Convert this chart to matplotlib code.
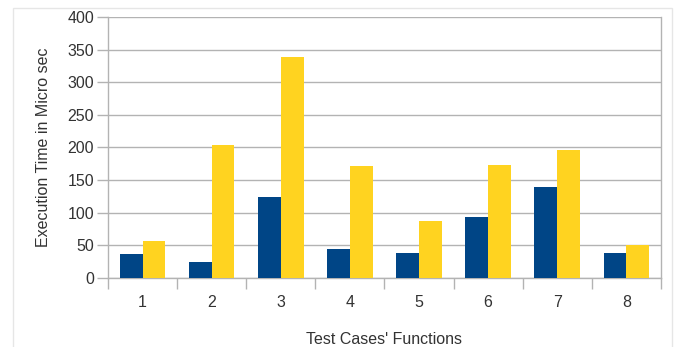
import matplotlib
matplotlib.use("Agg")
from matplotlib import pyplot as plt
from matplotlib.patches import Rectangle
import numpy as np

# Test case numbers and measured execution times (micro sec)
cases = ['1', '2', '3', '4', '5', '6', '7', '8']
series_blue = [37, 25, 124, 44, 38, 94, 140, 39]
series_yellow = [57, 204, 339, 171, 87, 173, 196, 50]

plt.rcParams['font.family'] = ['Liberation Sans', 'DejaVu Sans']

fig = plt.figure(figsize=(6.79, 3.47), dpi=100)
ax = fig.add_axes([0.159, 0.199, 0.8145, 0.752])

# light frame around the whole chart
fig.patches.append(Rectangle((13 / 679, -0.05), (672 - 13) / 679, 1.05 - 8 / 347,
                             transform=fig.transFigure, fill=False,
                             edgecolor='#e6e6e6', linewidth=1))

x = np.arange(len(cases))
w = 0.33
ax.bar(x - w / 2, series_blue, w, color='#004586', zorder=3)
ax.bar(x + w / 2, series_yellow, w, color='#ffd320', zorder=3)

ax.set_xlim(-0.5, len(cases) - 0.5)
ax.set_ylim(0, 400)
ax.set_yticks(range(0, 401, 50))
ax.yaxis.grid(True, color='#b3b3b3', linewidth=1, zorder=0)

# ticks between categories, labels at category centres
ax.set_xticks(np.arange(-0.5, len(cases), 1))
ax.set_xticklabels([])
ax.set_xticks(x, minor=True)
ax.set_xticklabels(cases, minor=True)
ax.tick_params(axis='x', which='major', length=8, color='#b3b3b3', width=1)
ax.tick_params(axis='x', which='minor', length=0, pad=12, labelsize=11.5, labelcolor='#333333')
ax.tick_params(axis='y', length=8, color='#b3b3b3', width=1, labelsize=11.5, labelcolor='#333333', pad=2)

for s in ax.spines.values():
    s.set_color('#b3b3b3')
    s.set_linewidth(1)
ax.spines['top'].set_visible(False)

ax.set_xlabel("Test Cases' Functions", fontsize=11.5, color='#333333', labelpad=16)
ax.set_ylabel('Execution Time in Micro sec', fontsize=11.5, color='#333333', labelpad=12)

fig.savefig('out.png', dpi=100)
